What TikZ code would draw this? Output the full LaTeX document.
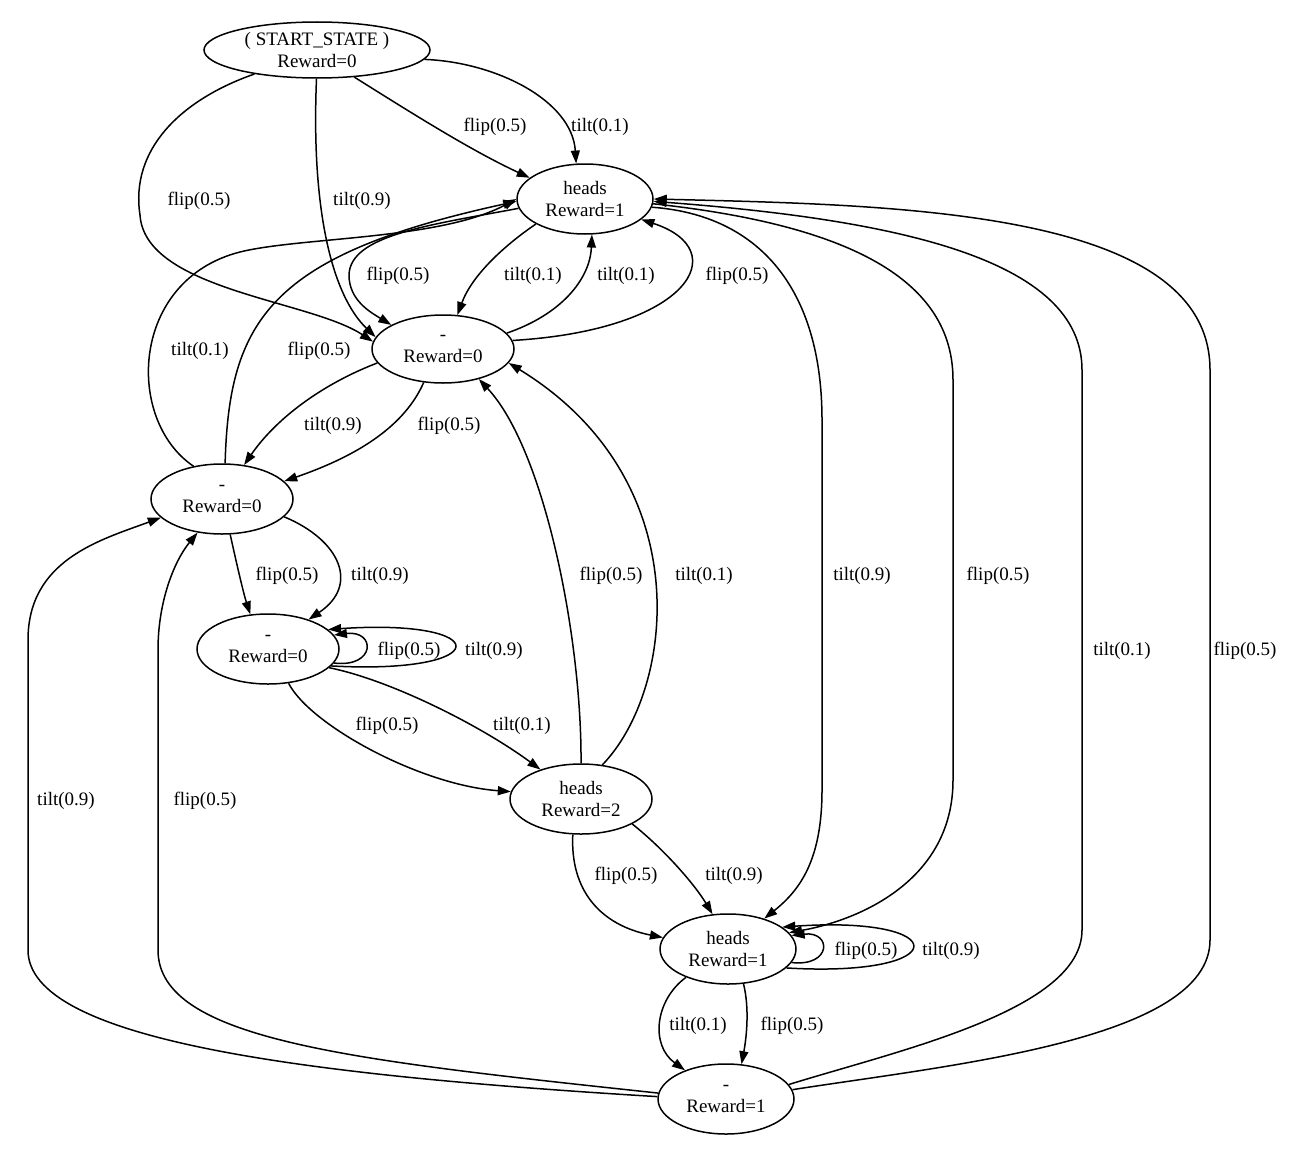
\documentclass[tikz,border=0pt]{standalone}
\usepackage{fontspec}
\setmainfont{Liberation Serif}
\usetikzlibrary{arrows.meta, shapes.geometric}

\begin{document}
\begin{tikzpicture}[
  x=1pt, y=-1pt, >={Triangle[length=13pt, width=9pt]},
  state/.style={draw, ellipse, line width=1.5pt, inner sep=0pt, align=center,
                minimum width=136pt, minimum height=70pt, font=\fontsize{19}{22}\selectfont},
  lab/.style={inner sep=0pt, yshift=-2pt, font=\fontsize{19}{22}\selectfont},
  arr/.style={->, line width=1.5pt}]
  \useasboundingbox (0,0) rectangle (1305,1148);
  \node[state, minimum width=226pt, minimum height=56pt] (S) at (317,50) {( START\_STATE )\\Reward=0};
  \node[state] (H1) at (585,199) {heads\\Reward=1};
  \node[state, minimum width=142pt, minimum height=68pt] (A) at (443,349) {-\\Reward=0};
  \node[state, minimum width=142pt] (B) at (222,499) {-\\Reward=0};
  \node[state, minimum width=142pt] (C) at (268,649) {-\\Reward=0};
  \node[state, minimum width=142pt] (H2) at (581,799) {heads\\Reward=2};
  \node[state] (H3) at (728,949) {heads\\Reward=1};
  \node[state] (D) at (726,1099) {-\\Reward=1};

  \draw[arr] (S.-36) .. controls (410,112) and (470,150) .. (H1.159)
    node[lab] (fSH) at (495,125) {flip(0.5)};
  \draw[arr] (S.-5) .. controls (495,62) and (572,100) .. (H1.104)
    node[lab] (tSH) at (600,125) {tilt(0.1)};
  \draw[arr] (S.201) .. controls (180,100) and (130,150) .. (140,215)
    .. controls (145,290) and (310,300) .. (A.174)
    node[lab] (fSA) at (199,199) {flip(0.5)};
  \draw[arr] (S.-91) .. controls (311,210) and (332,295) .. (A.170)
    node[lab] (tSA) at (362,199) {tilt(0.9)};
  \draw[arr] (H1.207) .. controls (505,245) and (472,275) .. (A.67)
    node[lab] (tHA) at (533,274) {tilt(0.1)};
  \draw[arr] (A.14) .. controls (560,315) and (590,280) .. (H1.-79)
    node[lab] (tAH) at (626,274) {tilt(0.1)};
  \draw[arr] (A.7) .. controls (690,330) and (735,250) .. (H1.-20)
    node[lab] (fAH) at (737,274) {flip(0.5)};
  \draw[arr] (H1.188) .. controls (430,225) and (350,235) .. (349,275)
    .. controls (349,300) and (370,312) .. (A.155)
    node[lab] (fHA) at (398,274) {flip(0.5)};
  \draw[arr] (A.192) .. controls (320,385) and (275,420) .. (B.57)
    node[lab] (tAB) at (333,424) {tilt(0.9)};
  \draw[arr] (A.240) .. controls (405,425) and (360,455) .. (B.16)
    node[lab] (fAB) at (449,424) {flip(0.5)};
  \draw[arr] (B.131) .. controls (125,420) and (130,280) .. (240,252)
    .. controls (300,237) and (440,240) .. (H1.180)
    node[lab] (tBH) at (200,349) {tilt(0.1)};
  \draw[arr] (B.85) .. controls (229,320) and (270,255) .. (H1.182)
    node[lab] (fBH) at (319,349) {flip(0.5)};
  \draw[arr] (B.283) .. controls (238,570) and (244,595) .. (C.117)
    node[lab] (fBC) at (287,574) {flip(0.5)};
  \draw[arr] (B.344) .. controls (340,540) and (360,585) .. (C.36)
    node[lab] (tBC) at (380,574) {tilt(0.9)};
  \draw[arr] (C.-12) .. controls (376,668) and (376,630) .. (C.12)
    node[lab] (fCC) at (409,649) {flip(0.5)};
  \draw[arr] (C.-15) .. controls (496,675) and (496,618) .. (C.18)
    node[lab] (tCC) at (494,649) {tilt(0.9)};
  \draw[arr] (C.301) .. controls (310,725) and (420,785) .. (H2.174)
    node[lab] (fCH) at (387,724) {flip(0.5)};
  \draw[arr] (C.-17) .. controls (390,680) and (480,725) .. (H2.144)
    node[lab] (tCH) at (522,724) {tilt(0.1)};
  \draw[arr] (H2.90) .. controls (582,640) and (545,450) .. (A.-40)
    node[lab] (fHA2) at (611,574) {flip(0.5)};
  \draw[arr] (H2.58) .. controls (675,690) and (700,480) .. (A.-12)
    node[lab] (tHA2) at (704,574) {tilt(0.1)};
  \draw[arr] (H2.257) .. controls (570,890) and (600,925) .. (H3.170)
    node[lab] (fHH) at (626,874) {flip(0.5)};
  \draw[arr] (H2.334) .. controls (665,850) and (695,885) .. (H3.114)
    node[lab] (tHH) at (734,874) {tilt(0.9)};
  \draw[arr] (H1.-7) .. controls (760,215) and (822,290) .. (822,420) -- (822,790)
    .. controls (822,860) and (800,890) .. (H3.40)
    node[lab] (tHH2) at (862,574) {tilt(0.9)};
  \draw[arr] (H1.-4) .. controls (850,225) and (953,280) .. (953,380) -- (953,780)
    .. controls (953,880) and (860,920) .. (H3.15)
    node[lab] (fHH2) at (998,574) {flip(0.5)};
  \draw[arr] (H3.-12) .. controls (832,967) and (832,931) .. (H3.12)
    node[lab] (fHH3) at (866,949) {flip(0.5)};
  \draw[arr] (H3.-18) .. controls (955,978) and (955,915) .. (H3.22)
    node[lab] (tHH3) at (951,949) {tilt(0.9)};
  \draw[arr] (H3.214) .. controls (655,1000) and (650,1045) .. (D.145)
    node[lab] (tHD) at (698,1024) {tilt(0.1)};
  \draw[arr] (H3.294) .. controls (750,1010) and (746,1040) .. (D.66)
    node[lab] (fHD) at (792,1024) {flip(0.5)};
  \draw[arr] (D.13) .. controls (900,1050) and (1082,1010) .. (1082,930) -- (1082,370)
    .. controls (1082,260) and (900,220) .. (H1.-2)
    node[lab] (tDH) at (1122,649) {tilt(0.1)};
  \draw[arr] (D.8) .. controls (950,1065) and (1210,1040) .. (1210,940) -- (1210,370)
    .. controls (1210,210) and (900,205) .. (H1.0)
    node[lab] (fDH) at (1245,649) {flip(0.5)};
  \draw[arr] (D.178) .. controls (300,1075) and (28,1040) .. (28,950) -- (28,640)
    .. controls (28,560) and (100,540) .. (B.197)
    node[lab] (tDB) at (66,799) {tilt(0.9)};
  \draw[arr] (D.175) .. controls (350,1060) and (158,1040) .. (158,950) -- (158,650)
    .. controls (158,600) and (175,560) .. (B.234)
    node[lab] (fDB) at (205,799) {flip(0.5)};
\end{tikzpicture}
\end{document}
